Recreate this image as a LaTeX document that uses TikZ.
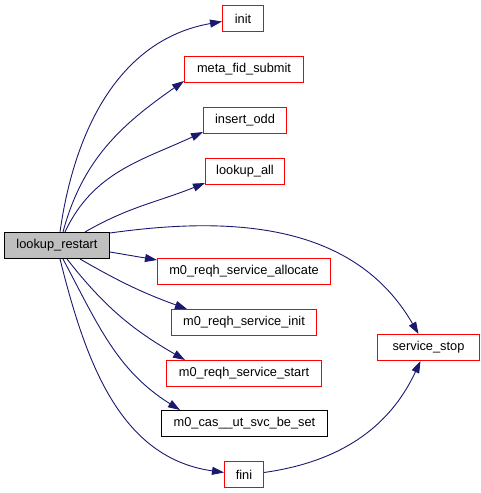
\documentclass[tikz,border=0pt]{standalone}
\usepackage{fontspec}
\setmainfont{Liberation Sans}
\usetikzlibrary{arrows.meta}
\definecolor{edgeblue}{rgb}{0.1, 0.1, 0.44}
\definecolor{boxgray}{rgb}{0.75, 0.75, 0.75}
\definecolor{boxred}{rgb}{1, 0, 0}

\begin{document}
\begin{tikzpicture}[x=1pt, y=1pt]
    \tikzstyle{fn_style} = [draw=boxred, line width=1pt, minimum height=26pt, inner xsep=2pt, inner ysep=0pt, font=\fontsize{12.8}{15}\selectfont]
    \tikzstyle{call_style} = [-{Triangle[length=12pt, width=8pt]}, edgeblue, line width=0.9pt]

    \useasboundingbox (0,0) rectangle (480,493);

    \node[fn_style, draw=black, fill=boxgray, minimum width=105pt] (restart) at (57,247.5) {lookup\_restart};

    \node[fn_style, minimum width=41pt] (init) at (243,474.5) {init};
    \node[fn_style, minimum width=119pt] (metafid) at (244,423.5) {meta\_fid\_submit};
    \node[fn_style, minimum width=83pt] (insertodd) at (245,372.5) {insert\_odd};
    \node[fn_style, minimum width=79pt] (lookupall) at (245,321.5) {lookup\_all};
    \node[fn_style, minimum width=173pt] (svcalloc) at (244,221.5) {m0\_reqh\_service\_allocate};
    \node[fn_style, minimum width=145pt] (svcinit) at (244,170.5) {m0\_reqh\_service\_init};
    \node[fn_style, minimum width=155pt] (svcstart) at (244,119.5) {m0\_reqh\_service\_start};
    \node[fn_style, draw=black, minimum width=166pt] (casset) at (244.5,69.5) {m0\_cas\_\_ut\_svc\_be\_set};
    \node[fn_style, minimum width=39pt] (fini) at (244,18.5) {fini};
    \node[fn_style, minimum width=102pt] (svcstop) at (428.5,145.5) {service\_stop};

    % calls of lookup_restart
    \draw[call_style] ([xshift=3pt]restart.north) to[out=82, in=190] ([yshift=-3pt]init.west);
    \draw[call_style] ([xshift=6pt]restart.north) to[out=75, in=215] ([yshift=2pt]metafid.south west);
    \draw[call_style] ([xshift=8pt]restart.north) to[out=65, in=205] ([yshift=2pt]insertodd.south west);
    \draw[call_style] ([xshift=28pt]restart.north) to[out=30, in=202] ([yshift=2pt]lookupall.south west);
    \draw[call_style] ([yshift=-1pt]restart.north east) to[out=8, in=120] ([xshift=-10pt]svcstop.north);
    \draw[call_style] ([yshift=7pt]restart.south east) -- ([yshift=-2pt]svcalloc.north west);
    \draw[call_style] ([xshift=23pt]restart.south) to[out=-30, in=160] ([xshift=16pt]svcinit.north west);
    \draw[call_style] ([xshift=10pt]restart.south) to[out=-52, in=150] ([xshift=19pt]svcstart.north west);
    \draw[call_style] ([xshift=6pt]restart.south) to[out=-62, in=148] ([xshift=19pt]casset.north west);
    \draw[call_style] ([xshift=3pt]restart.south) to[out=-76, in=172] ([yshift=2pt]fini.west);

    \draw[call_style] ([yshift=2pt]fini.east) to[out=8, in=-115] ([xshift=-8pt]svcstop.south);
\end{tikzpicture}
\end{document}
